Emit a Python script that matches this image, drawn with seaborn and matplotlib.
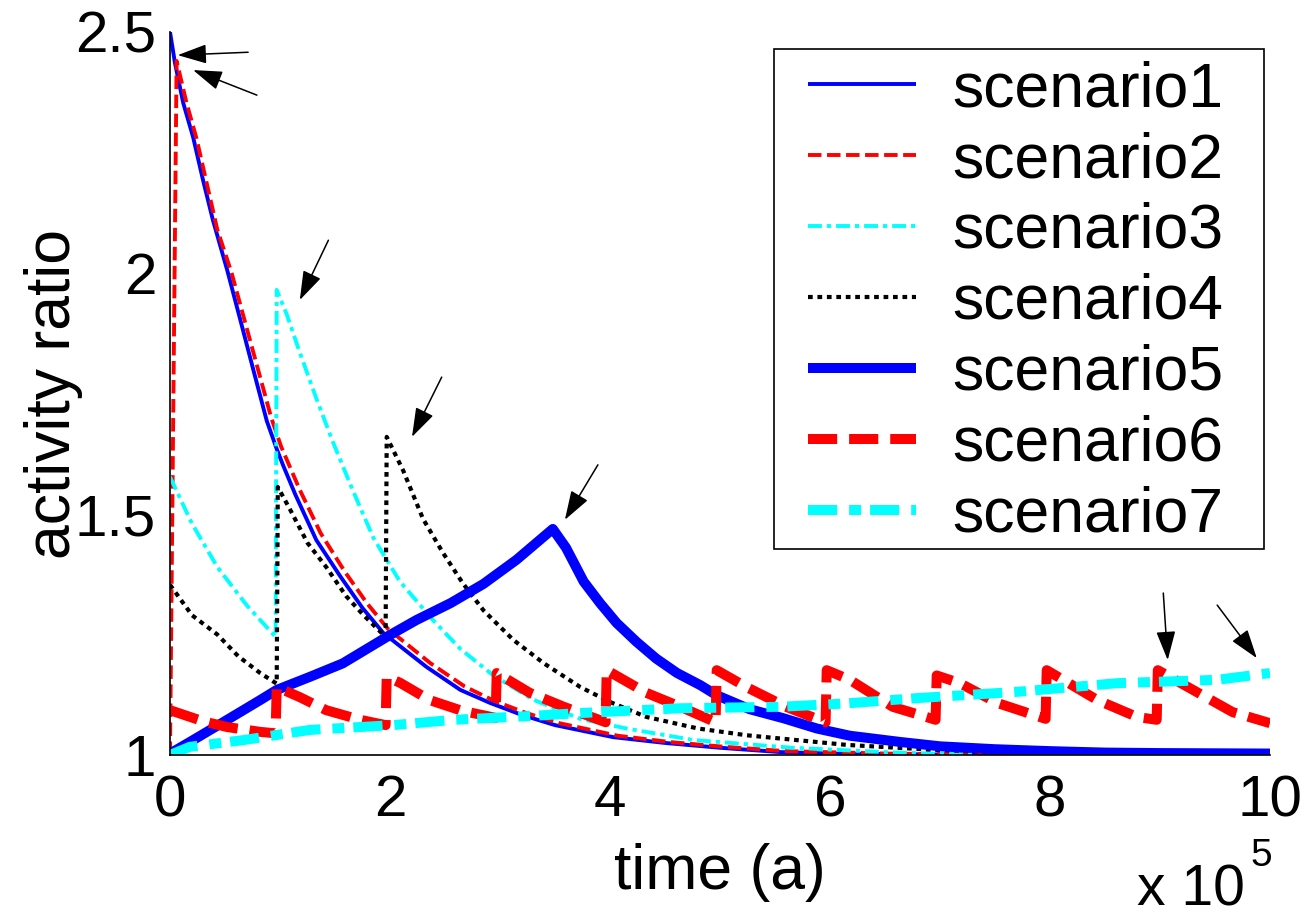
import matplotlib
matplotlib.use("Agg")
import matplotlib.pyplot as plt
from matplotlib.patches import Rectangle
import seaborn as sns
import pandas as pd

# time in units of 1e5 years, activity ratio (dimensionless)
s1_t = [0, 0.045, 0.12, 0.21, 0.3, 0.39, 0.52, 0.64, 0.76, 0.88, 0.97, 1.03, 1.14, 1.33, 1.55,
        1.75, 1.94, 2.33, 2.64, 2.91, 3.2, 3.5, 4.03, 4.5, 5.0, 5.55, 6.0, 7.0, 8.0, 10.0]
s1_y = [2.5, 2.436, 2.353, 2.282, 2.193, 2.11, 2.006, 1.902, 1.797, 1.693, 1.635, 1.60, 1.54,
        1.446, 1.37, 1.305, 1.253, 1.183, 1.135, 1.108, 1.083, 1.062, 1.037, 1.025, 1.015, 1.006,
        1.003, 1.001, 1.0, 1.0]

s2_t = [0, 0.06, 0.15, 0.24, 0.34, 0.43, 0.56, 0.68, 0.8, 0.92, 1.01, 1.18, 1.37, 1.59, 1.79,
        1.98, 2.37, 2.68, 2.95, 3.24, 3.54, 4.07, 4.54, 5.04, 5.6, 6.5, 7.6]
s2_y = [1.0, 2.44, 2.353, 2.28, 2.18, 2.09, 2.0, 1.9, 1.8, 1.7, 1.64, 1.55, 1.46, 1.38, 1.315,
        1.262, 1.19, 1.142, 1.112, 1.087, 1.066, 1.04, 1.027, 1.017, 1.008, 1.003, 1.0]

s3_t = [0, 0.2, 0.43, 0.7, 0.96, 0.97, 1.06, 1.18, 1.33, 1.48, 1.66, 1.85, 2.09, 2.39, 2.64, 2.94,
        3.3, 3.73, 4.15, 4.76, 5.66, 6.5, 7.3]
s3_y = [1.577, 1.48, 1.39, 1.31, 1.245, 1.965, 1.915, 1.835, 1.74, 1.65, 1.55, 1.45, 1.36, 1.28,
        1.22, 1.165, 1.115, 1.075, 1.055, 1.031, 1.015, 1.006, 1.0]

s4_t = [0, 0.2, 0.43, 0.62, 0.82, 0.97, 0.98, 1.09, 1.25, 1.42, 1.6, 1.76, 1.96, 1.97, 2.12, 2.3,
        2.48, 2.66, 2.85, 3.12, 3.4, 3.73, 4.0, 4.33, 4.8, 5.24, 6.15, 7.0, 8.3]
s4_y = [1.353, 1.29, 1.25, 1.205, 1.17, 1.148, 1.556, 1.51, 1.44, 1.39, 1.33, 1.29, 1.245, 1.66,
        1.59, 1.49, 1.42, 1.357, 1.30, 1.239, 1.19, 1.141, 1.11, 1.079, 1.055, 1.041, 1.021, 1.01, 1.0]

s5_t = [0, 0.21, 0.52, 0.82, 0.97, 1.27, 1.57, 2.0, 2.24, 2.55, 2.85, 3.15, 3.48, 3.6, 3.76, 3.91,
        4.06, 4.24, 4.42, 4.61, 4.82, 4.97, 5.27, 5.58, 5.88, 6.18, 6.64, 7.0, 7.5, 8.0, 8.5, 9.0, 10.0]
s5_y = [1.003, 1.031, 1.073, 1.114, 1.135, 1.162, 1.19, 1.249, 1.28, 1.315, 1.355, 1.405, 1.469,
        1.43, 1.36, 1.315, 1.274, 1.235, 1.2, 1.17, 1.145, 1.124, 1.095, 1.076, 1.055, 1.04,
        1.027, 1.018, 1.012, 1.008, 1.005, 1.004, 1.003]

s6_t = [0, 0.3, 0.52, 0.82, 0.96, 0.97, 1.18, 1.42, 1.73, 1.96, 1.97, 2.09, 2.36, 2.65, 2.96, 2.97,
        3.27, 3.58, 3.96, 3.97, 4.33, 4.64, 4.96, 4.97, 5.24, 5.6, 5.96, 5.97, 6.18, 6.57, 6.96,
        6.97, 7.18, 7.52, 7.96, 7.97, 8.43, 8.79, 8.97, 8.98, 9.3, 9.66, 10.0]
s6_y = [1.093, 1.07, 1.058, 1.048, 1.045, 1.141, 1.12, 1.093, 1.073, 1.062, 1.162, 1.15, 1.114,
        1.092, 1.077, 1.17, 1.129, 1.1, 1.068, 1.176, 1.129, 1.1, 1.068, 1.176, 1.141, 1.1, 1.068,
        1.176, 1.156, 1.1, 1.073, 1.165, 1.149, 1.108, 1.075, 1.176, 1.114, 1.079, 1.073, 1.176,
        1.135, 1.089, 1.066]

s7_t = [0, 0.18, 0.67, 1.27, 2.03, 2.58, 3.2, 3.73, 4.64, 5.55, 6.15, 6.79, 7.7, 8.61, 9.52, 10.0]
s7_y = [1.0, 1.017, 1.031, 1.052, 1.062, 1.073, 1.08, 1.087, 1.097, 1.1, 1.107, 1.118, 1.131,
        1.149, 1.156, 1.17]

labels = ["scenario1", "scenario2", "scenario3", "scenario4", "scenario5", "scenario6", "scenario7"]
series = [(s1_t, s1_y), (s2_t, s2_y), (s3_t, s3_y), (s4_t, s4_y),
          (s5_t, s5_y), (s6_t, s6_y), (s7_t, s7_y)]

x_ticks = [0, 2, 4, 6, 8, 10]
x_ticklabels = ["0", "2", "4", "6", "8", "10"]
y_ticks = [1, 1.5, 2, 2.5]
y_ticklabels = ["1", "1.5", "2", "2.5"]

# arrows pointing at the pulse peaks: (tail, tip) in data units
arrow_tails = [(0.71, 2.458), (0.79, 2.369), (1.44, 2.068), (2.47, 1.784), (3.89, 1.602),
               (9.03, 1.336), (9.52, 1.311)]
arrow_tips = [(0.07, 2.452), (0.21, 2.421), (1.18, 1.944), (2.2, 1.66), (3.59, 1.488),
              (9.07, 1.197), (9.88, 1.201)]

# line styles (dash lengths in points)
styles = [
    dict(color="#0000ff", lw=2.8, ls="-"),
    dict(color="#ff0000", lw=2.8, ls=(0, (9.7, 4.0))),
    dict(color="#00ffff", lw=2.8, ls=(0, (10, 3.6, 3.0, 3.6))),
    dict(color="#000000", lw=3.0, ls=(0, (3.4, 3.4))),
    dict(color="#0000ff", lw=7.2, ls="-"),
    dict(color="#ff0000", lw=7.2, ls=(0, (21, 8.6))),
    dict(color="#00ffff", lw=7.2, ls=(0, (21, 8.6, 8.6, 6.5))),
]

sns.set_style("white")
plt.rcParams["font.family"] = ["Liberation Sans", "DejaVu Sans"]
plt.rcParams["lines.scale_dashes"] = False
plt.rcParams["lines.solid_capstyle"] = "butt"
plt.rcParams["lines.dash_capstyle"] = "butt"
for key in ["text.color", "axes.labelcolor", "xtick.color", "ytick.color", "axes.edgecolor"]:
    plt.rcParams[key] = "black"

FS_TICK = 42
FS_LABEL = 45
FS_LEG = 45

W, H = 1305, 921
fig = plt.figure(figsize=(W / 100, H / 100), dpi=100)
ax = fig.add_axes([170 / W, 1 - 755 / H, 1100 / W, 723 / H])

for (t, y), lab, st in zip(series, labels, styles):
    df = pd.DataFrame({"t": t, "ratio": y})
    sns.lineplot(data=df, x="t", y="ratio", ax=ax, estimator=None, sort=False,
                 color=st["color"], linewidth=st["lw"], linestyle=st["ls"], label=lab)

for tail, tip in zip(arrow_tails, arrow_tips):
    ax.annotate("", xy=tip, xytext=tail,
                arrowprops=dict(arrowstyle="-|>,head_length=1.8,head_width=0.6",
                                color="black", lw=1.1, shrinkA=0, shrinkB=0,
                                mutation_scale=10))

ax.set_xlim(0, 10)
ax.set_ylim(1, 2.5)
ax.set_xticks(x_ticks)
ax.set_xticklabels(x_ticklabels)
ax.set_yticks(y_ticks)
ax.set_yticklabels(y_ticklabels)
ax.tick_params(axis="both", direction="in", length=7, width=1, labelsize=FS_TICK,
               colors="black", labelcolor="black")
ax.tick_params(axis="x", pad=14)
ax.tick_params(axis="y", pad=10)

for side in ["top", "right"]:
    ax.spines[side].set_visible(False)
for side in ["left", "bottom"]:
    ax.spines[side].set_color("black")
    ax.spines[side].set_linewidth(1.2)

ax.set_xlabel("time (a)", fontsize=FS_LABEL, va="center", color="black")
ax.xaxis.set_label_coords(0.5, -0.163)
ax.set_ylabel("activity ratio", fontsize=FS_LABEL, va="center", color="black")
ax.yaxis.set_label_coords(-0.106, 0.5)

# scale factor of the time axis
fig.text(1137 / W, 1 - 905 / H, "x 10", fontsize=41, ha="left", va="baseline", color="black")
fig.text(1250 / W, 1 - 866 / H, "5", fontsize=28, ha="left", va="baseline", color="black")

# legend entries without frame, with a separate box drawn around them
leg = ax.legend(loc="upper left", bbox_to_anchor=(0.58, 0.961), borderaxespad=0,
                frameon=False, fontsize=FS_LEG, handlelength=1.73, handletextpad=0.58,
                labelspacing=0.19, borderpad=0)
for txt in leg.get_texts():
    txt.set_color("black")
box = Rectangle((774 / W, 1 - 549 / H), 490 / W, 500 / H, transform=fig.transFigure,
                facecolor="white", edgecolor="black", linewidth=1.2, zorder=4.5, clip_on=False)
ax.add_patch(box)

fig.savefig("out.png", dpi=100, facecolor="white")
